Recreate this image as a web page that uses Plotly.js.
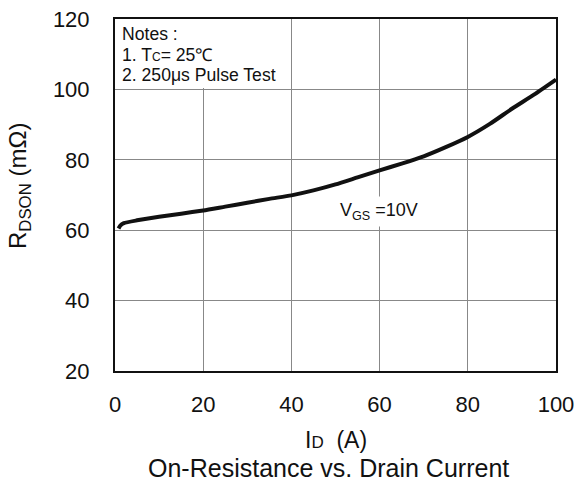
<!DOCTYPE html>
<html>
<head>
<meta charset="utf-8">
<script src="https://cdn.plot.ly/plotly-3.0.1.min.js"></script>
<style>html,body{margin:0;padding:0;background:#fff;}#chart{width:577px;height:486px;}</style>
</head>
<body>
<div id="chart"></div>
<script>
var drainCurrent = [0.8, 1.2, 2, 5, 10, 15, 20, 25, 30, 35, 40, 45, 50, 55, 60, 65, 70, 75, 80, 85, 90, 95, 100];
var rdson = [60.5, 61.3, 62.0, 62.8, 63.8, 64.7, 65.6, 66.7, 67.8, 68.9, 69.9, 71.3, 73.0, 75.0, 77.0, 78.9, 81.0, 83.6, 86.5, 90.2, 94.5, 98.5, 102.8];
var xTicks = [0, 20, 40, 60, 80, 100];
var yTicks = [20, 40, 60, 80, 100, 120];
var curveLabel = "V<sub>GS</sub> =10V";
var notesLines = ["Notes :", "1. T<span style='font-size:12px'>C</span>= 25\u2103", "2. 250\u03bcs Pulse Test"];
var xTitle = "I<span style='font-size:17px'>D</span>  (A)";
var yTitle = "R<sub>DSON</sub> (m\u03a9)";
var chartTitle = "On-Resistance vs. Drain Current";

var font = "Liberation Sans, Arial, sans-serif";

var trace = {
  x: drainCurrent, y: rdson, type: "scatter", mode: "lines",
  line: {color: "#111", width: 4, shape: "spline", smoothing: 0.6},
  hoverinfo: "skip", showlegend: false
};

var notesY = [0.957, 0.899, 0.841];
var annotations = notesLines.map(function (t, i) {
  return {text: t, xref: "paper", yref: "paper", x: 0.011, y: notesY[i],
    xanchor: "left", yanchor: "middle", align: "left", showarrow: false,
    font: {size: 17.6, family: font, color: "#111"}};
});
annotations.push(
  {text: curveLabel, xref: "x", yref: "y", x: 59.8, y: 65.3,
   xanchor: "center", yanchor: "middle", showarrow: false,
   bgcolor: "#fff", borderpad: 3,
   font: {size: 18, family: font, color: "#111"}},
  {text: xTitle, xref: "paper", yref: "paper", x: 0.5, y: -0.195,
   xanchor: "center", yanchor: "middle", showarrow: false,
   font: {size: 23, family: font, color: "#111"}},
  {text: chartTitle, xref: "paper", yref: "paper", x: 0.484, y: -0.275,
   xanchor: "center", yanchor: "middle", showarrow: false,
   font: {size: 25, family: font, color: "#111"}},
  {text: yTitle, xref: "paper", yref: "paper", x: -0.215, y: 0.526,
   xanchor: "center", yanchor: "middle", textangle: -90, showarrow: false,
   font: {size: 24, family: font, color: "#111"}}
);

var layout = {
  width: 577, height: 486,
  margin: {l: 115, r: 21, t: 19, b: 115},
  paper_bgcolor: "#fff", plot_bgcolor: "#fff",
  font: {family: font, color: "#111", size: 22},
  showlegend: false,
  xaxis: {
    range: [0, 100], tickvals: xTicks, ticktext: xTicks.map(String),
    showgrid: true, gridcolor: "#888", gridwidth: 1,
    showline: true, linecolor: "#111", linewidth: 2, mirror: true,
    ticks: "outside", ticklen: 13, tickcolor: "rgba(0,0,0,0)",
    zeroline: false, tickfont: {size: 22, family: font, color: "#111"}
  },
  yaxis: {
    range: [20, 120], tickvals: yTicks, ticktext: yTicks.map(String),
    showgrid: true, gridcolor: "#888", gridwidth: 1,
    showline: true, linecolor: "#111", linewidth: 2, mirror: true,
    ticks: "outside", ticklen: 19, tickcolor: "rgba(0,0,0,0)",
    zeroline: false, tickfont: {size: 22, family: font, color: "#111"}
  },
  shapes: [{
    type: "rect", xref: "x", yref: "y", x0: 0, x1: 39.4, y0: 100.4, y1: 120,
    fillcolor: "#fff", line: {width: 0}, layer: "between"
  }],
  annotations: annotations
};

Plotly.newPlot("chart", [trace], layout, {staticPlot: true, displayModeBar: false});
</script>
</body>
</html>
